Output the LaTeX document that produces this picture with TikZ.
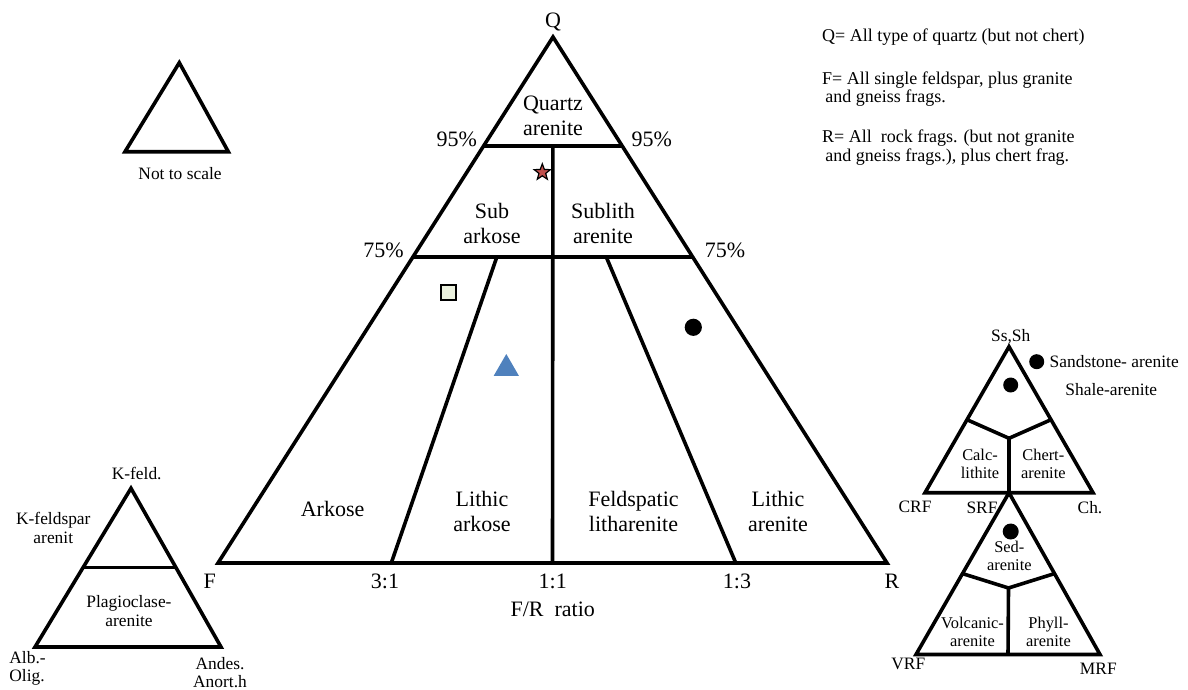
\documentclass[tikz,border=0pt]{standalone}
\usepackage{fontspec}
\setmainfont{Liberation Serif}
\usepackage{xcolor}
\usetikzlibrary{positioning,calc,shapes.geometric}
\definecolor{starRed}{HTML}{C0504D}
\definecolor{sqGreen}{HTML}{EBF1DE}
\definecolor{triBlue}{HTML}{4F81BD}

\begin{document}
\begin{tikzpicture}[x=0.5pt, y=-0.5pt,
  edge/.style    ={line width=1.8pt, line join=miter},
  lblBig/.style  ={font=\fontsize{11}{12.3}\selectfont, align=center, inner sep=0pt},
  lblSmall/.style={font=\fontsize{8.7}{9.4}\selectfont, align=center, inner sep=0pt},
  lblTiny/.style ={font=\fontsize{8.2}{9.1}\selectfont, align=center, inner sep=0pt},
  lblNote/.style ={font=\fontsize{9}{9.2}\selectfont, align=left, anchor=west, inner sep=0pt},
  ptDot/.style   ={circle, fill=black, inner sep=0pt},
]
\useasboundingbox (0,0) rectangle (1188,690);

% main QFR triangle (pixel frame, y downwards)
\coordinate (Q) at (553,37);
\coordinate (F) at (218,563);
\coordinate (R) at (887,563);
\coordinate (q95l) at ($(Q)!0.207!(F)$);
\coordinate (q95r) at ($(Q)!0.207!(R)$);
\coordinate (q75l) at ($(Q)!0.418!(F)$);
\coordinate (q75r) at ($(Q)!0.418!(R)$);
\coordinate (q95m) at ($(q95l)!0.5!(q95r)$);
\coordinate (top31)  at ($(q75l)!0.300!(q75r)$);
\coordinate (top13)  at ($(q75l)!0.691!(q75r)$);
\coordinate (base31) at ($(F)!0.259!(R)$);
\coordinate (base11) at ($(F)!0.5!(R)$);
\coordinate (base13) at ($(F)!0.774!(R)$);
\draw[edge] (Q) -- (F) -- (R) -- cycle;
\draw[edge] (q95l) -- (q95r);
\draw[edge] (q75l) -- (q75r);
\draw[edge] (q95m) -- (base11);
\draw[edge] (top31) -- (base31);
\draw[edge] (top13) -- (base13);

% field names
\foreach \nm/\x/\y/\txt in {%
  qzar/553/115.8/{Quartz\\arenite},
  subark/492/223.7/{Sub\\arkose},
  sublith/603/223.5/{Sublith\\arenite},
  lithark/482/511.7/{Lithic\\arkose},
  feldlith/633.5/511.7/{Feldspatic\\litharenite},
  lithar/778/511.5/{Lithic\\arenite}%
} {
  \node[lblBig] (fld-\nm) at (\x,\y) {\txt};
}
\node[lblBig, anchor=base] (fld-ark) at (332.6,516.7) {Arkose};

% apex, percentages and ratio ticks
\node[lblBig, anchor=base] (lbl-Q) at (553,28) {Q};
\foreach \nm/\x/\y/\txt in {l95/456.7/146.7/95\%, r95/651.7/146.7/95\%,
                            l75/383.5/257/75\%, r75/725/257/75\%} {
  \node[lblBig, anchor=base] (pct-\nm) at (\x,\y) {\txt};
}
\foreach \nm/\x/\txt in {F/209.8/F, r31/385/3:1, r11/552.7/1:1, r13/737/1:3, R/892/R} {
  \node[lblBig, anchor=base] (tick-\nm) at (\x,588.3) {\txt};
}
\node[lblBig, anchor=base] (lbl-ratio) at (552.7,616.7) {F/R\ \ ratio};

% sample points
\node[star, star points=5, star point ratio=2.4, draw=black, fill=starRed,
      line width=0.6pt, minimum size=8.5pt, inner sep=0pt] (mkStar) at (542.3,172.3) {};
\node[draw=black, fill=sqGreen, line width=1pt, minimum size=7.6pt,
      inner sep=0pt] (mkSq) at (448.7,292.7) {};
\node[regular polygon, regular polygon sides=3, fill=triBlue,
      minimum size=14.6pt, inner sep=0pt] (mkTri) at (506.3,368.6) {};
\node[ptDot, minimum size=8.6pt] (mkDot) at (693.3,327.3) {};

% definitions
\node[lblNote] (noteQ) at (821.7,36.7) {Q= All type of quartz (but not chert)};
\node[lblNote] (noteF) at (821.7,89.2) {F= All single feldspar, plus granite\\\hspace*{1.6pt}and gneiss frags.};
\node[lblNote] (noteR) at (821.7,147.5) {R= All\ \ rock frags. (but not granite\\\hspace*{1.6pt}and gneiss frags.), plus chert frag.};

% not to scale
\coordinate (nsA) at (179.3,62.7);
\coordinate (nsB) at (125,151.7);
\coordinate (nsC) at (228.3,151.7);
\draw[edge] (nsA) -- (nsB) -- (nsC) -- cycle;
\node[lblSmall, anchor=base] (lbl-ns) at (180,179) {Not to scale};

% feldspar triangle
\coordinate (kA) at (131,488.3);
\coordinate (kB) at (35,647);
\coordinate (kC) at (221,647);
\draw[edge] (kA) -- (kB) -- (kC) -- cycle;
\draw[edge] ($(kA)!0.5!(kB)$) -- ($(kA)!0.5!(kC)$);
\node[lblSmall, anchor=base] (lbl-kf) at (136.7,479) {K-feld.};
\node[lblSmall] (lbl-kfar) at (53.3,528) {K-feldspar\\arenit};
\node[lblSmall] (lbl-plag) at (129,610.7) {Plagioclase-\\arenite};
\node[lblSmall, align=left, anchor=west] (lbl-alb) at (9,668.3) {Alb.-\\Olig.};
\node[lblSmall] (lbl-and) at (220,672.5) {Andes.\\Anort.h};

% rock fragment triangles
\coordinate (sA) at (1009,346.7);
\coordinate (sB) at (925,492.7);
\coordinate (sC) at (1093,492.7);
\coordinate (sJ) at (1009,438.3);
\coordinate (sM) at ($(sB)!0.5!(sC)$);
\draw[edge] (sA) -- (sB) -- (sC) -- cycle;
\draw[edge] ($(sA)!0.5!(sB)$) -- (sJ) -- ($(sA)!0.5!(sC)$);
\draw[edge] (sJ) -- (sM);

\coordinate (vB) at (916,654.5);
\coordinate (vC) at (1100,654.5);
\coordinate (vJ) at (1008.5,588);
\draw[edge] (sM) -- (vB) -- (vC) -- cycle;
\draw[edge] ($(sM)!0.5!(vB)$) -- (vJ) -- ($(sM)!0.5!(vC)$);
\draw[edge] (vJ) -- ($(vB)!0.5!(vC)$);

\node[lblSmall, anchor=base] (lbl-sssh) at (1010.7,341) {Ss,Sh};
\node[ptDot, minimum size=7.5pt] (dotSs) at (1036.7,361.7) {};
\node[ptDot, minimum size=7.5pt] (dotSh) at (1010.7,385) {};
\node[ptDot, minimum size=8pt] (dotSed) at (1010.7,531.5) {};
\node[lblSmall, anchor=west] (lbl-ssar) at (1049.3,361.7) {Sandstone- arenite};
\node[lblSmall, anchor=west] (lbl-shar) at (1065,389.3) {Shale-arenite};
\foreach \nm/\x/\y/\txt in {%
  calc/980/463.8/{Calc-\\lithite},
  chert/1043.3/463.8/{Chert-\\arenite},
  sed/1009.3/556/{Sed-\\arenite},
  volc/972.5/632/{Volcanic-\\arenite},
  phyll/1048.5/632/{Phyll-\\arenite}%
} {
  \node[lblTiny] (rf-\nm) at (\x,\y) {\txt};
}
\foreach \nm/\x/\y in {CRF/915/506.7, SRF/982/507.5, Ch./1090/507.5,
                       VRF/908.3/664, MRF/1098.3/668.3} {
  \node[lblSmall] (pole-\nm) at (\x,\y) {\nm};
}
\end{tikzpicture}
\end{document}
